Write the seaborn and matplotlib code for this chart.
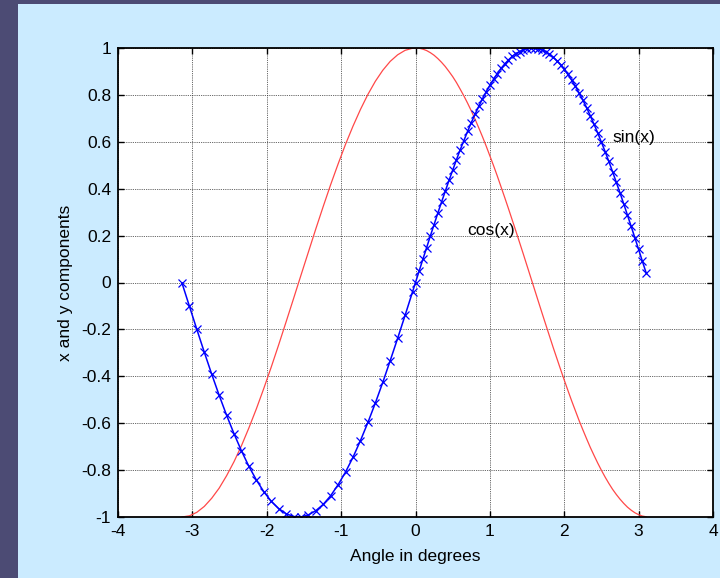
import matplotlib
matplotlib.use("Agg")
import matplotlib.pyplot as plt
import seaborn as sns
import pandas as pd

x_vals = [-3.14, -3.04, -2.94, -2.84, -2.74, -2.64, -2.54, -2.44, -2.34, -2.24, -2.14, -2.04,
          -1.94, -1.84, -1.74, -1.64, -1.54, -1.44, -1.34, -1.24, -1.14, -1.04, -0.94, -0.84,
          -0.74, -0.64, -0.54, -0.44, -0.34, -0.24, -0.14, -0.04,
          0.00, 0.05, 0.10, 0.15, 0.20, 0.25, 0.30, 0.35, 0.40, 0.45, 0.50, 0.55,
          0.60, 0.65, 0.70, 0.75, 0.80, 0.85, 0.90, 0.95, 1.00, 1.05, 1.10, 1.15,
          1.20, 1.25, 1.30, 1.35, 1.40, 1.45, 1.50, 1.55, 1.60, 1.65, 1.70, 1.75,
          1.80, 1.85, 1.90, 1.95, 2.00, 2.05, 2.10, 2.15, 2.20, 2.25, 2.30, 2.35,
          2.40, 2.45, 2.50, 2.55, 2.60, 2.65, 2.70, 2.75, 2.80, 2.85, 2.90, 2.95,
          3.00, 3.05, 3.10]

sin_vals = [-0.002, -0.101, -0.200, -0.297, -0.391, -0.481, -0.566, -0.645, -0.718, -0.784, -0.842, -0.892,
            -0.933, -0.964, -0.986, -0.998, -1.000, -0.991, -0.973, -0.946, -0.909, -0.862, -0.808, -0.745,
            -0.674, -0.597, -0.514, -0.426, -0.333, -0.238, -0.140, -0.040, 0.000, 0.050, 0.100, 0.149,
            0.199, 0.247, 0.296, 0.343, 0.389, 0.435, 0.479, 0.523, 0.565, 0.605, 0.644, 0.682,
            0.717, 0.751, 0.783, 0.813, 0.841, 0.867, 0.891, 0.913, 0.932, 0.949, 0.964, 0.976,
            0.985, 0.993, 0.997, 1.000, 1.000, 0.997, 0.992, 0.984, 0.974, 0.961, 0.946, 0.929,
            0.909, 0.887, 0.863, 0.837, 0.808, 0.778, 0.746, 0.711, 0.675, 0.638, 0.598, 0.558,
            0.516, 0.472, 0.427, 0.382, 0.335, 0.287, 0.239, 0.190, 0.141, 0.091, 0.042]

cos_vals = [-1.000, -0.995, -0.980, -0.955, -0.920, -0.877, -0.824, -0.764, -0.696, -0.620, -0.539, -0.452,
            -0.361, -0.266, -0.168, -0.069, 0.031, 0.130, 0.229, 0.325, 0.418, 0.506, 0.590, 0.667,
            0.738, 0.802, 0.858, 0.905, 0.943, 0.971, 0.990, 0.999, 1.000, 0.999, 0.995, 0.989,
            0.980, 0.969, 0.955, 0.939, 0.921, 0.900, 0.878, 0.853, 0.825, 0.796, 0.765, 0.732,
            0.697, 0.660, 0.622, 0.582, 0.540, 0.498, 0.454, 0.408, 0.362, 0.315, 0.267, 0.219,
            0.170, 0.121, 0.071, 0.021, -0.029, -0.079, -0.129, -0.178, -0.227, -0.276, -0.323, -0.370,
            -0.416, -0.461, -0.505, -0.547, -0.589, -0.628, -0.666, -0.703, -0.737, -0.770, -0.801, -0.830,
            -0.857, -0.882, -0.904, -0.924, -0.942, -0.958, -0.971, -0.982, -0.990, -0.996, -0.999]

x_ticks = [-4, -3, -2, -1, 0, 1, 2, 3, 4]
y_ticks = [-1, -0.8, -0.6, -0.4, -0.2, 0, 0.2, 0.4, 0.6, 0.8, 1]
y_tick_labels = ["-1", "-0.8", "-0.6", "-0.4", "-0.2", "0", "0.2", "0.4", "0.6", "0.8", "1"]

df = pd.DataFrame({"x": x_vals, "sin": sin_vals, "cos": cos_vals})

plt.rcParams["font.family"] = ["Liberation Sans", "DejaVu Sans"]
FS = 12.5

fig = plt.figure(figsize=(7.2, 5.78), dpi=100, facecolor="#cbebff")
# slide background bands
fig.patches.append(plt.Rectangle((0, 0), 18/720, 1, transform=fig.transFigure,
                                 facecolor="#4c4b74", edgecolor="none", zorder=0))
fig.patches.append(plt.Rectangle((0, 1 - 4/578), 1, 4/578, transform=fig.transFigure,
                                 facecolor="#4c4b74", edgecolor="none", zorder=0))

ax = fig.add_axes([118/720, 1 - 517/578, 595/720, 469/578])
ax.set_facecolor("white")

sns.lineplot(data=df, x="x", y="cos", ax=ax, color="#ff4848", linewidth=0.9,
             estimator=None, sort=False)
sns.lineplot(data=df, x="x", y="sin", ax=ax, color="#0000ff", linewidth=1.1,
             marker="x", markersize=5.5, markeredgewidth=0.9, markeredgecolor="#0000ff",
             estimator=None, sort=False)

ax.set_xlim(-4, 4)
ax.set_ylim(-1, 1)
ax.set_xticks(x_ticks)
ax.set_xticklabels([str(t) for t in x_ticks])
ax.set_yticks(y_ticks)
ax.set_yticklabels(y_tick_labels)
ax.grid(True, linestyle=(0, (1, 1.2)), color="#333333", linewidth=0.6)
ax.set_axisbelow(True)
ax.tick_params(direction="in", top=True, right=True, length=4, width=1,
               labelsize=FS, colors="black", pad=5)
for sp in ax.spines.values():
    sp.set_color("black")
    sp.set_linewidth(1.3)

ax.set_xlabel("Angle in degrees", fontsize=FS, labelpad=7)
ax.set_ylabel("x and y components", fontsize=FS, labelpad=6)

ax.text(2.65, 0.62, "sin(x)", fontsize=FS, va="center", ha="left")
ax.text(0.70, 0.22, "cos(x)", fontsize=FS, va="center", ha="left")

fig.savefig("out.png", dpi=100, facecolor=fig.get_facecolor())
